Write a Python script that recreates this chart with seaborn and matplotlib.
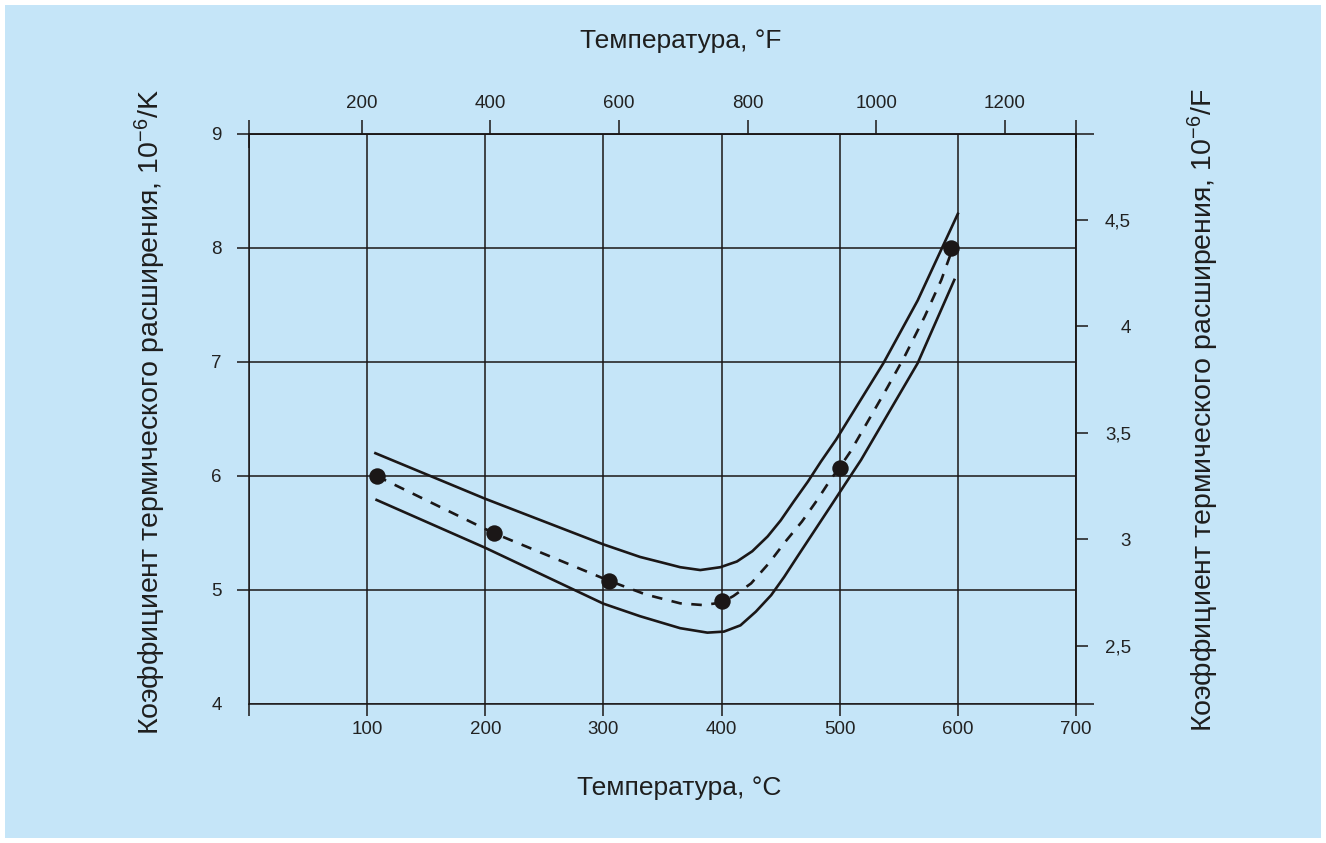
import numpy as np
import pandas as pd
import seaborn as sns
import matplotlib as mpl
import matplotlib.pyplot as plt
from matplotlib.patches import Rectangle

# fonts
mpl.rcParams["font.family"] = "Liberation Sans"
mpl.rcParams["mathtext.fontset"] = "custom"
mpl.rcParams["mathtext.rm"] = "Liberation Sans"
mpl.rcParams["mathtext.it"] = "Liberation Sans:italic"

INK = "#1b1717"
BG = "#c5e5f8"

# measured points, temperature in C, CTE in 10^-6/K
temp_points = [108, 207, 305, 400, 500, 594]
cte_points = [6.00, 5.50, 5.08, 4.90, 6.07, 8.00]

# upper bound of the scatter band
upper_t = [107, 200, 300, 331, 350, 365, 382, 399, 413, 426, 439, 450, 461,
           473, 484, 497, 537, 566, 600]
upper_v = [6.20, 5.80, 5.40, 5.29, 5.24, 5.20, 5.175, 5.20, 5.25, 5.34, 5.47,
           5.61, 5.775, 5.95, 6.125, 6.32, 6.99, 7.54, 8.30]

# lower bound of the scatter band
lower_t = [108, 200, 300, 331, 365, 388, 402, 416, 429, 442, 453, 464, 478,
           492, 504, 518, 566, 597]
lower_v = [5.79, 5.37, 4.88, 4.77, 4.665, 4.626, 4.635, 4.69, 4.81, 4.955,
           5.115, 5.29, 5.51, 5.73, 5.92, 6.14, 6.99, 7.72]

# mean (dashed) curve
mean_t = [108, 207, 305, 336, 365, 384, 400, 410, 425, 440, 454, 468, 481,
          492, 500, 509, 540, 555, 572, 586, 594]
mean_v = [6.00, 5.50, 5.08, 4.96, 4.883, 4.868, 4.889, 4.947, 5.058, 5.234,
          5.424, 5.60, 5.79, 5.965, 6.076, 6.213, 6.77, 7.05, 7.40, 7.72, 7.95]

c_ticks = [0, 100, 200, 300, 400, 500, 600, 700]
k_ticks = [4, 5, 6, 7, 8, 9]
f_ticks = [200, 400, 600, 800, 1000, 1200]
fk_ticks = [2.5, 3, 3.5, 4, 4.5]
fk_labels = ["2,5", "3", "3,5", "4", "4,5"]


# axis scale conversions as drawn in the original
def c2f(c):
    return 24.4 + 1.838 * np.asarray(c, dtype=float)


def f2c(f):
    return (np.asarray(f, dtype=float) - 24.4) / 1.838


def k2f(k):
    return 3.5 + (np.asarray(k, dtype=float) - 6.379) / 1.867


def f2k(f):
    return 6.379 + 1.867 * (np.asarray(f, dtype=float) - 3.5)


fig = plt.figure(figsize=(13.26, 8.43), dpi=100)
fig.patch.set_facecolor("white")
fig.add_artist(Rectangle((5 / 1326, 5 / 843), 1316 / 1326, 833 / 843,
                         transform=fig.transFigure, facecolor=BG,
                         edgecolor="none", zorder=-10))

ax = fig.add_axes([249 / 1326, 1 - 704 / 843, 827 / 1326, 570 / 843])
ax.set_facecolor("none")

band = pd.DataFrame({"t": upper_t, "v": upper_v})
sns.lineplot(data=band, x="t", y="v", ax=ax, sort=False, estimator=None,
             color=INK, lw=1.9, zorder=3)
band = pd.DataFrame({"t": lower_t, "v": lower_v})
sns.lineplot(data=band, x="t", y="v", ax=ax, sort=False, estimator=None,
             color=INK, lw=1.9, zorder=3)
sns.lineplot(x=mean_t, y=mean_v, ax=ax, sort=False, estimator=None,
             color=INK, lw=1.9, linestyle=(0, (4, 3.6)), zorder=3)
sns.scatterplot(x=temp_points, y=cte_points, ax=ax, s=140, color=INK,
                edgecolor=INK, linewidth=0, zorder=5)

ax.set_xlim(0, 700)
ax.set_ylim(4, 9)
ax.set_xticks(c_ticks)
ax.set_xticklabels([""] + [str(v) for v in c_ticks[1:]])
ax.set_yticks(k_ticks)
ax.set_yticklabels([str(v) for v in k_ticks])
ax.set_xlabel("")
ax.set_ylabel("")
ax.grid(True, color=INK, lw=1.1)
ax.set_axisbelow(True)
ax.tick_params(axis="both", direction="out", length=8.6, width=1.1,
               color=INK, labelsize=13.5, labelcolor="#222222")
ax.tick_params(axis="y", pad=11)
ax.tick_params(axis="x", pad=4)
ax.yaxis.get_major_ticks()[0].tick1line.set_visible(False)
for s in ax.spines.values():
    s.set_color(INK)
    s.set_linewidth(1.1)

# top axis in F
top = ax.secondary_xaxis("top", functions=(c2f, f2c))
top.set_xticks(f_ticks)
top.set_xticklabels([str(v) for v in f_ticks])
top.set_xticks([float(c2f(0)), float(c2f(700))], minor=True)
top.tick_params(which="major", direction="out", length=10, width=1.1,
                color=INK, labelsize=13.5, labelcolor="#222222", pad=6)
top.tick_params(which="minor", direction="inout", length=20, width=1.1, color=INK)
top.spines["top"].set_color(INK)
top.spines["top"].set_linewidth(1.1)

# right axis in 10^-6/F
right = ax.secondary_yaxis("right", functions=(k2f, f2k))
right.set_yticks(fk_ticks)
right.set_yticklabels(fk_labels)
right.set_yticks([float(k2f(4)), float(k2f(9))], minor=True)
right.tick_params(which="major", direction="out", length=8.6, width=1.1,
                  color=INK, labelsize=13.5, labelcolor="#222222", pad=31)
right.tick_params(which="minor", direction="out", length=13, width=1.1, color=INK)
right.spines["right"].set_color(INK)
right.spines["right"].set_linewidth(1.1)
for lab in right.get_yticklabels():
    lab.set_horizontalalignment("right")

fig.text(681 / 1326, 1 - 41 / 843, "Температура, °F", ha="center", va="center",
         fontsize=19, color="#1e1e1e")
fig.text(679 / 1326, 1 - 788 / 843, "Температура, °C", ha="center", va="center",
         fontsize=19, color="#1e1e1e")
fig.text(150 / 1326, 1 - 412 / 843,
         "Коэффициент термического расширения, 10$^{-6}$/K",
         rotation=90, ha="center", va="center", fontsize=20.5, color="#1e1e1e")
fig.text(1203 / 1326, 1 - 410 / 843,
         "Коэффициент термического расширения, 10$^{-6}$/F",
         rotation=90, ha="center", va="center", fontsize=20.5, color="#1e1e1e")

fig.savefig("out.png", dpi=100)
